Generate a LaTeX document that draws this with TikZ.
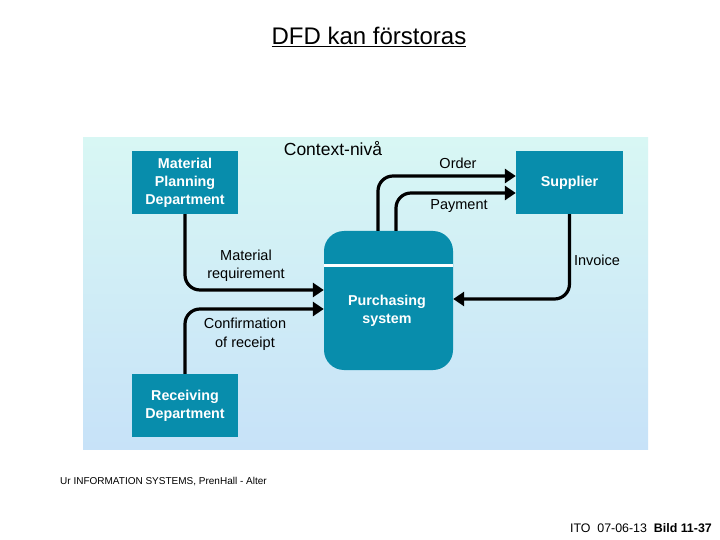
\documentclass[tikz,border=0pt]{standalone}
\usepackage{fontspec}
\setmainfont{Liberation Sans}
\usetikzlibrary{arrows.meta,calc}
\definecolor{boxc}{RGB}{8,141,172}
\definecolor{bgtop}{RGB}{216,247,244}
\definecolor{bgbot}{RGB}{199,226,248}
\tikzset{
  ent/.style={fill=boxc,draw=none,text=white,font=\fontsize{14.3}{18}\selectfont\bfseries,align=center,inner sep=0pt},
  flow/.style={line width=3.2pt,rounded corners=15pt,-{Triangle[length=11pt,width=14pt]}},
  lbl/.style={font=\fontsize{14.5}{18.5}\selectfont,align=center,inner sep=0pt}
}
\begin{document}
\begin{tikzpicture}[x=1pt,y=-1pt]
\useasboundingbox (0,0) rectangle (720,540);
\fill[white] (0,0) rectangle (720,540);
% title
\node (title) at (369,37) {\fontsize{24}{27}\selectfont\underline{DFD kan förstoras}};
% panel
\shade[top color=bgtop,bottom color=bgbot] (83,138) rectangle (648,449);
\node[lbl,font=\fontsize{17.5}{20}\selectfont] (ctx) at (333,149) {Context-nivå};
% entities
\node[ent,minimum width=106pt,minimum height=63pt] (mp) at (185,182.5) {Material\\Planning\\Department};
\node[ent,minimum width=106pt,minimum height=63pt] (rd) at (185,405.5) {Receiving\\Department};
\node[ent,minimum width=107pt,minimum height=63pt] (sup) at (569.5,182.5) {Supplier};
% process
\node[fill=boxc,draw=none,rounded corners=20pt,minimum width=129pt,minimum height=139pt,inner sep=0pt] (pur) at (388.5,300.5) {};
\coordinate (sepl) at (324,265);
\coordinate (sepr) at (453,265);
\draw[white,line width=3pt] (sepl) -- (sepr);
\node[ent,fill=none] (purtxt) at (387,310.5) {Purchasing\\system};
% flows
\draw[flow] ([xshift=-10.5pt]pur.north) |- ([yshift=6.5pt]sup.west);
\draw[flow] ([xshift=7.5pt]pur.north) |- ([yshift=-10.5pt]sup.west);
\draw[flow] (mp.south) |- ([yshift=10.5pt]pur.west);
\draw[flow] (rd.north) |- ([yshift=-8.5pt]pur.west);
\draw[flow] (sup.south) |- ([yshift=1.5pt]pur.east);
% labels
\node[lbl] (lorder) at (458,163) {Order};
\node[lbl] (lpay) at (459,206) {Payment};
\node[lbl] (lmat) at (246,266) {Material\\requirement};
\node[lbl] (lconf) at (245,334) {Confirmation\\of receipt};
\node[lbl] (linv) at (597,260) {Invoice};
% footer
\node[anchor=west,inner sep=0pt,font=\fontsize{10}{12}\selectfont] (src) at (60,482) {Ur INFORMATION SYSTEMS, PrenHall - Alter};
\node[anchor=east,inner sep=0pt,font=\fontsize{12.4}{14}\selectfont] (foot) at (712,528) {ITO\ \ 07-06-13\ \ \textbf{Bild 11-37}};
\end{tikzpicture}
\end{document}
